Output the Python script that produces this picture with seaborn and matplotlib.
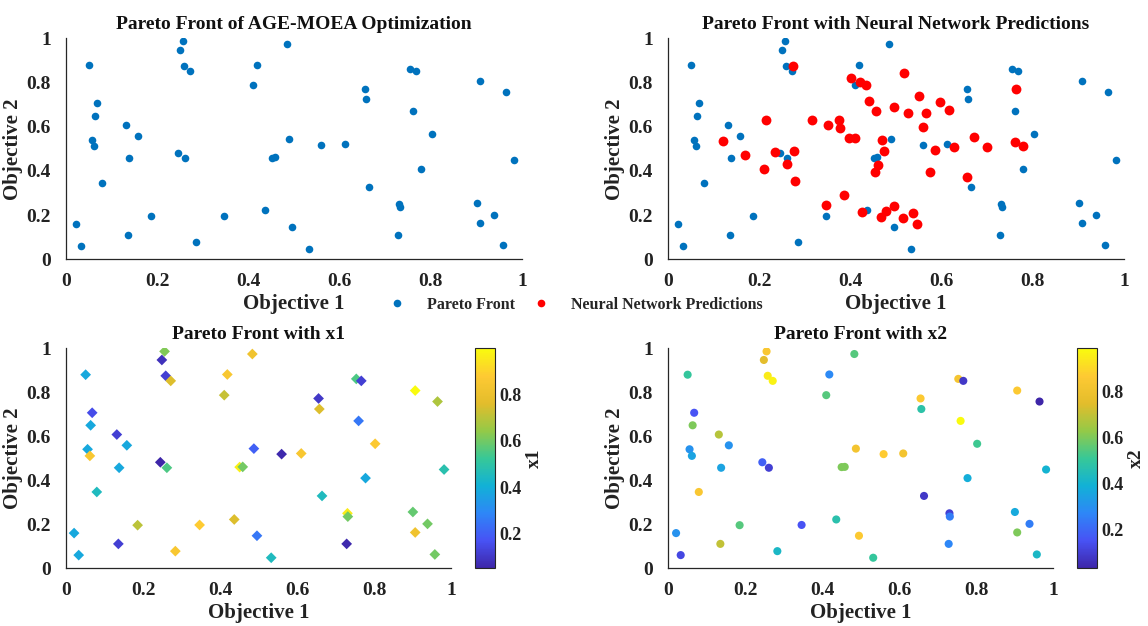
import numpy as np
import pandas as pd
import matplotlib
matplotlib.use("Agg")
import matplotlib.pyplot as plt
import seaborn as sns
from matplotlib.colors import LinearSegmentedColormap, Normalize
from matplotlib.cm import ScalarMappable
from matplotlib.lines import Line2D

# ---- Pareto front (objective values of the final population) ----
obj1 = [0.021, 0.033, 0.051, 0.068, 0.064, 0.056, 0.062, 0.080, 0.132, 0.158,
        0.138, 0.136, 0.186, 0.249, 0.256, 0.259, 0.272, 0.245, 0.262, 0.284,
        0.347, 0.411, 0.419, 0.484, 0.488, 0.451, 0.459, 0.437, 0.496, 0.533,
        0.560, 0.611, 0.656, 0.658, 0.665, 0.731, 0.732, 0.729, 0.754, 0.767,
        0.760, 0.803, 0.778, 0.907, 0.965, 0.982, 0.901, 0.939, 0.907, 0.958]
obj2 = [0.160, 0.060, 0.880, 0.707, 0.650, 0.541, 0.511, 0.347, 0.608, 0.559,
        0.457, 0.111, 0.196, 0.947, 0.986, 0.875, 0.852, 0.482, 0.457, 0.078,
        0.197, 0.787, 0.881, 0.974, 0.544, 0.460, 0.461, 0.222, 0.148, 0.048,
        0.519, 0.522, 0.772, 0.724, 0.329, 0.250, 0.235, 0.111, 0.861, 0.852,
        0.670, 0.566, 0.410, 0.808, 0.758, 0.449, 0.256, 0.202, 0.163, 0.063]

# ---- Decision variables of the Pareto solutions ----
x1 = [0.38, 0.38, 0.38, 0.15, 0.38, 0.38, 0.85, 0.45, 0.12, 0.38,
      0.38, 0.12, 0.70, 0.08, 0.62, 0.12, 0.75, 0.05, 0.55, 0.85,
      0.88, 0.72, 0.85, 0.82, 0.20, 0.97, 0.60, 0.75, 0.25, 0.45,
      0.06, 0.85, 0.10, 0.75, 0.45, 0.96, 0.60, 0.06, 0.55, 0.12,
      0.25, 0.87, 0.38, 0.998, 0.68, 0.48, 0.58, 0.60, 0.82, 0.60]
x2 = [0.30, 0.12, 0.50, 0.15, 0.60, 0.30, 0.35, 0.85, 0.68, 0.30,
      0.35, 0.70, 0.55, 0.75, 0.85, 0.95, 0.97, 0.18, 0.10, 0.42,
      0.15, 0.55, 0.28, 0.55, 0.82, 0.60, 0.60, 0.47, 0.86, 0.50,
      0.87, 0.82, 0.86, 0.48, 0.08, 0.10, 0.25, 0.27, 0.83, 0.08,
      0.99, 0.52, 0.38, 0.86, 0.03, 0.40, 0.37, 0.25, 0.60, 0.42]

# ---- Neural network predicted objective values ----
nn_obj1 = [0.121, 0.169, 0.210, 0.216, 0.235, 0.274, 0.276, 0.262, 0.279, 0.316,
           0.350, 0.347, 0.376, 0.378, 0.396, 0.387, 0.401, 0.421, 0.435, 0.411,
           0.441, 0.457, 0.426, 0.469, 0.474, 0.460, 0.455, 0.468, 0.479, 0.495,
           0.495, 0.518, 0.551, 0.527, 0.565, 0.596, 0.616, 0.560, 0.585, 0.627,
           0.670, 0.700, 0.575, 0.656, 0.764, 0.760, 0.778, 0.515, 0.537, 0.545]
nn_obj2 = [0.535, 0.472, 0.407, 0.629, 0.487, 0.873, 0.490, 0.430, 0.355, 0.629,
           0.608, 0.247, 0.629, 0.592, 0.551, 0.289, 0.819, 0.801, 0.787, 0.550,
           0.715, 0.670, 0.214, 0.539, 0.491, 0.427, 0.397, 0.192, 0.217, 0.689,
           0.240, 0.842, 0.740, 0.663, 0.660, 0.710, 0.676, 0.600, 0.495, 0.507,
           0.552, 0.508, 0.396, 0.374, 0.769, 0.532, 0.513, 0.185, 0.211, 0.160]

ticks = [0, 0.2, 0.4, 0.6, 0.8, 1]
tick_labels = ["0", "0.2", "0.4", "0.6", "0.8", "1"]
cbar_ticks = [0.2, 0.4, 0.6, 0.8]

pareto = pd.DataFrame({"obj1": obj1, "obj2": obj2, "x1": x1, "x2": x2})
nn = pd.DataFrame({"obj1": nn_obj1, "obj2": nn_obj2})

# parula-like colormap
parula = LinearSegmentedColormap.from_list("parula", [
    (0.000, (0.2422, 0.1504, 0.6603)),
    (0.125, (0.2810, 0.3228, 0.9579)),
    (0.250, (0.1786, 0.5289, 0.9682)),
    (0.375, (0.0689, 0.6948, 0.8394)),
    (0.500, (0.2161, 0.7843, 0.5923)),
    (0.625, (0.5800, 0.7900, 0.2800)),
    (0.750, (0.8900, 0.7400, 0.1700)),
    (0.875, (0.9950, 0.7900, 0.2000)),
    (1.000, (0.9763, 0.9831, 0.0538)),
])

sns.set_theme(style="white")
plt.rcParams["font.family"] = ["Liberation Serif", "DejaVu Serif"]
plt.rcParams["font.weight"] = "bold"
plt.rcParams["axes.labelweight"] = "bold"
plt.rcParams["axes.titleweight"] = "bold"

BLUE = "#0072BD"
RED = "#FF0000"
AX_COLOR = "#262626"
TXT = "#222222"

W, H = 1148, 626
fig = plt.figure(figsize=(W / 100, H / 100), dpi=100)


def rect(x0, x1_, y0, y1_):
    return [x0 / W, 1 - y1_ / H, (x1_ - x0) / W, (y1_ - y0) / H]


ax_tl = fig.add_axes(rect(66, 522, 38.3, 259.3))
ax_tr = fig.add_axes(rect(668, 1124, 38.3, 259.3))
ax_bl = fig.add_axes(rect(66, 451, 348.3, 568.3))
ax_br = fig.add_axes(rect(668, 1053, 348.3, 568.3))
cax_bl = fig.add_axes(rect(475, 495, 348.3, 568.3))
cax_br = fig.add_axes(rect(1077, 1097, 348.3, 568.3))


def style(ax, title):
    ax.set_xlim(0, 1)
    ax.set_ylim(0, 1)
    ax.set_xticks(ticks)
    ax.set_xticklabels(tick_labels)
    ax.set_yticks(ticks)
    ax.set_yticklabels(tick_labels)
    for s in ["top", "right"]:
        ax.spines[s].set_visible(False)
    for s in ["left", "bottom"]:
        ax.spines[s].set_color(AX_COLOR)
        ax.spines[s].set_linewidth(0.9)
    ax.tick_params(axis="both", direction="in", length=4, width=0.9,
                   color=AX_COLOR, labelsize=14, labelcolor=TXT)
    ax.tick_params(axis="x", pad=10)
    ax.tick_params(axis="y", pad=11)
    for lab in ax.get_xticklabels() + ax.get_yticklabels():
        lab.set_fontweight("bold")
    ax.set_xlabel("Objective 1", fontsize=15, fontweight="bold", color=TXT, labelpad=3)
    ax.set_ylabel("Objective 2", fontsize=15, fontweight="bold", color=TXT, labelpad=2)
    ax.set_title(title, fontsize=14, fontweight="bold", color="#111111", pad=7)
    ax.grid(False)


# Pareto front alone
sns.scatterplot(data=pareto, x="obj1", y="obj2", color=BLUE, s=30,
                linewidth=0, ax=ax_tl)
style(ax_tl, "Pareto Front of AGE-MOEA Optimization")

# Pareto front with neural network predictions
sns.scatterplot(data=pareto, x="obj1", y="obj2", color=BLUE, s=30,
                linewidth=0, ax=ax_tr)
sns.scatterplot(data=nn, x="obj1", y="obj2", color=RED, s=50,
                linewidth=0, ax=ax_tr)
style(ax_tr, "Pareto Front with Neural Network Predictions")

# Pareto front coloured by x1
norm1 = Normalize(vmin=min(x1), vmax=max(x1))
sns.scatterplot(data=pareto, x="obj1", y="obj2", hue="x1", palette=parula,
                hue_norm=norm1, marker="D", s=30, linewidth=0, legend=False, ax=ax_bl)
style(ax_bl, "Pareto Front with x1")

# Pareto front coloured by x2
norm2 = Normalize(vmin=min(x2), vmax=max(x2))
sns.scatterplot(data=pareto, x="obj1", y="obj2", hue="x2", palette=parula,
                hue_norm=norm2, marker="o", s=34, linewidth=0, legend=False, ax=ax_br)
style(ax_br, "Pareto Front with x2")


def colorbar(cax, norm, label):
    sm = ScalarMappable(norm=norm, cmap=parula)
    cb = fig.colorbar(sm, cax=cax)
    cb.set_ticks(cbar_ticks)
    cb.set_ticklabels([f"{t:g}" for t in cbar_ticks])
    cb.outline.set_edgecolor(AX_COLOR)
    cb.outline.set_linewidth(0.8)
    cb.ax.tick_params(direction="in", length=3, width=0.8, color=AX_COLOR,
                      labelsize=13, labelcolor=TXT, pad=3)
    for lab in cb.ax.get_yticklabels():
        lab.set_fontweight("bold")
    cb.set_label(label, fontsize=14, fontweight="bold", color=TXT, labelpad=3)


colorbar(cax_bl, norm1, "x1")
colorbar(cax_br, norm2, "x2")

handles = [
    Line2D([], [], linestyle="none", marker="o", markersize=5.5,
           markerfacecolor=BLUE, markeredgewidth=0, label="Pareto Front"),
    Line2D([], [], linestyle="none", marker="o", markersize=5.5,
           markerfacecolor=RED, markeredgewidth=0, label="Neural Network Predictions"),
]
fig.legend(handles=handles, loc="center", bbox_to_anchor=(575 / W, 1 - 305 / H),
           ncol=2, frameon=False, prop={"size": 11.5, "weight": "bold"},
           handletextpad=1.3, columnspacing=1.0, handlelength=1.2)

fig.savefig("out.png", dpi=100)
